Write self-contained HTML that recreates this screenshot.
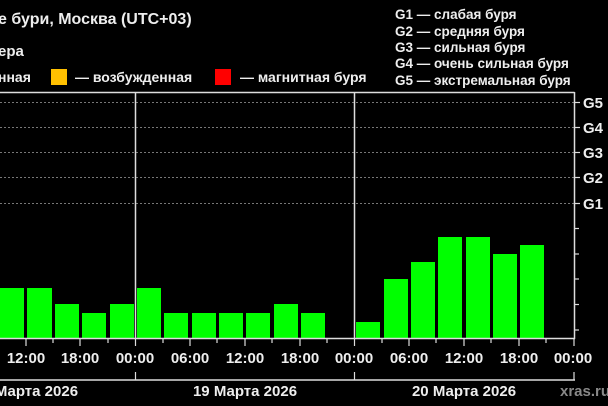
<!DOCTYPE html>
<html><head><meta charset="utf-8"><style>
body{margin:0;background:#000;width:608px;height:406px;overflow:hidden}
svg{display:block}
text{font-family:"Liberation Sans",sans-serif;font-weight:bold;fill:#eee}
</style></head><body>
<svg width="608" height="406" viewBox="0 0 608 406">
<rect width="608" height="406" fill="#000"/>
<text x="-2" y="24" font-size="16">е бури, Москва (UTC+03)</text>
<text x="-2" y="56" font-size="15">ера</text>
<text x="-2" y="82" font-size="14">нная</text>
<rect x="51" y="69" width="16" height="16" fill="#ffc000"/>
<text x="75" y="82" font-size="14">— возбужденная</text>
<rect x="215" y="69" width="16" height="16" fill="#ff0000"/>
<text x="240" y="82" font-size="14">— магнитная буря</text>
<g font-size="13.5">
<text x="395" y="19">G1 — слабая буря</text>
<text x="395" y="36">G2 — средняя буря</text>
<text x="395" y="52">G3 — сильная буря</text>
<text x="395" y="68">G4 — очень сильная буря</text>
<text x="395" y="85">G5 — экстремальная буря</text>
</g>
<g stroke="#777" stroke-dasharray="2,2" stroke-width="1">
<line x1="0" x2="574" y1="102.5" y2="102.5"/><line x1="0" x2="574" y1="127.5" y2="127.5"/>
<line x1="0" x2="574" y1="152.5" y2="152.5"/><line x1="0" x2="574" y1="177.5" y2="177.5"/>
<line x1="0" x2="574" y1="203.5" y2="203.5"/>
</g>
<g fill="#00ff00">
<rect x="-3" y="288" width="27" height="50"/>
<rect x="27" y="288" width="25" height="50"/>
<rect x="55" y="304" width="24" height="34"/>
<rect x="82" y="313" width="24" height="25"/>
<rect x="110" y="304" width="24" height="34"/>
<rect x="137" y="288" width="24" height="50"/>
<rect x="164" y="313" width="24" height="25"/>
<rect x="192" y="313" width="24" height="25"/>
<rect x="219" y="313" width="24" height="25"/>
<rect x="246" y="313" width="24" height="25"/>
<rect x="274" y="304" width="24" height="34"/>
<rect x="301" y="313" width="24" height="25"/>
<rect x="356" y="322" width="24" height="16"/>
<rect x="384" y="279" width="24" height="59"/>
<rect x="411" y="262" width="24" height="76"/>
<rect x="438" y="237" width="24" height="101"/>
<rect x="466" y="237" width="24" height="101"/>
<rect x="493" y="254" width="24" height="84"/>
<rect x="520" y="245" width="24" height="93"/>
</g>
<g stroke="#ddd" stroke-width="1.5" fill="none">
<line x1="0" x2="574.5" y1="92.5" y2="92.5"/>
<line x1="574.5" x2="574.5" y1="92" y2="339"/>
<line x1="0" x2="575" y1="338.5" y2="338.5"/>
<line x1="135.5" x2="135.5" y1="92" y2="338"/>
<line x1="354.5" x2="354.5" y1="92" y2="338"/>
<line x1="0" x2="575" y1="380" y2="380"/>
</g>
<g stroke="#ddd" stroke-width="1.2">
<line x1="135.5" x2="135.5" y1="372" y2="380"/><line x1="354.5" x2="354.5" y1="372" y2="380"/><line x1="574" x2="574" y1="372" y2="380"/>
<line x1="26" x2="26" y1="338" y2="346"/><line x1="80" x2="80" y1="338" y2="346"/><line x1="135.5" x2="135.5" y1="338" y2="346"/>
<line x1="190" x2="190" y1="338" y2="346"/><line x1="245" x2="245" y1="338" y2="346"/><line x1="300" x2="300" y1="338" y2="346"/>
<line x1="354.5" x2="354.5" y1="338" y2="346"/><line x1="409" x2="409" y1="338" y2="346"/><line x1="464" x2="464" y1="338" y2="346"/>
<line x1="519" x2="519" y1="338" y2="346"/><line x1="574" x2="574" y1="338" y2="346"/>
<line x1="53" x2="53" y1="338" y2="343"/><line x1="108" x2="108" y1="338" y2="343"/><line x1="163" x2="163" y1="338" y2="343"/>
<line x1="217" x2="217" y1="338" y2="343"/><line x1="272" x2="272" y1="338" y2="343"/><line x1="327" x2="327" y1="338" y2="343"/>
<line x1="382" x2="382" y1="338" y2="343"/><line x1="436" x2="436" y1="338" y2="343"/><line x1="491" x2="491" y1="338" y2="343"/>
<line x1="546" x2="546" y1="338" y2="343"/>
<line x1="574" x2="580" y1="102.5" y2="102.5"/><line x1="574" x2="580" y1="127.5" y2="127.5"/>
<line x1="574" x2="580" y1="152.5" y2="152.5"/><line x1="574" x2="580" y1="177.5" y2="177.5"/>
<line x1="574" x2="580" y1="203.5" y2="203.5"/><line x1="574" x2="579" y1="228.5" y2="228.5"/>
<line x1="574" x2="579" y1="254" y2="254"/><line x1="574" x2="579" y1="279" y2="279"/>
<line x1="574" x2="579" y1="304.5" y2="304.5"/><line x1="574" x2="579" y1="330" y2="330"/>
</g>
<g font-size="15">
<text x="583" y="108">G5</text><text x="583" y="133">G4</text><text x="583" y="158">G3</text>
<text x="583" y="183">G2</text><text x="583" y="209">G1</text>
</g>
<g font-size="15" text-anchor="middle">
<text x="26" y="363">12:00</text><text x="80" y="363">18:00</text><text x="135" y="363">00:00</text>
<text x="190" y="363">06:00</text><text x="245" y="363">12:00</text><text x="300" y="363">18:00</text>
<text x="354" y="363">00:00</text><text x="409" y="363">06:00</text><text x="464" y="363">12:00</text>
<text x="519" y="363">18:00</text><text x="573" y="363">00:00</text>
<text x="26" y="396">18 Марта 2026</text>
<text x="245" y="396">19 Марта 2026</text>
<text x="464" y="396">20 Марта 2026</text>
</g>
<text x="560" y="396" font-size="15" style="fill:#888">xras.ru</text>
</svg>
</body></html>
